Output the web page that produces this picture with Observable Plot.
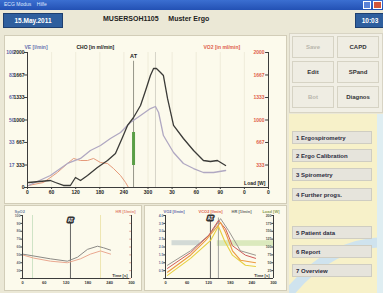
<!DOCTYPE html>
<html><head><meta charset="utf-8">
<script src="https://cdn.jsdelivr.net/npm/d3@7"></script>
<script src="https://cdn.jsdelivr.net/npm/@observablehq/plot@0.6"></script>
<style>
html,body{margin:0;padding:0;background:#ebe8d6;}
#app{position:relative;width:383px;height:293px;overflow:hidden;font-family:"Liberation Sans",Arial,sans-serif;font-weight:bold;background:#ebe8d6;}
.a{position:absolute;}
.blue{background:#2f5f9e;color:#fff;border:1px solid #1d3f70;font-size:6.5px;display:flex;align-items:center;justify-content:center;}
.panel{background:#fcfaec;border:1px solid #d2cdb8;box-sizing:border-box;}
.btn{background:#efede3;border:1px solid #d6d3c4;box-sizing:border-box;font-size:6px;display:flex;align-items:center;justify-content:center;color:#333;}
.menu{background:#e6e4dc;border:1px solid #cfcdc2;box-sizing:border-box;font-size:6px;color:#2c2c40;padding-left:3px;display:flex;align-items:center;}
</style></head><body><div id="app"></div>
<script>
// ---------- DATA ----------
// main chart x positions are index slots along the load axis
const mainXTicks = [0,1,2,3,4,5,6,7,8,9,10];
const mainXLabels = ["0","60","120","180","240","300","30","60","90","0","0"];
const leftTicks = [0,333,667,1000,1333,1667,2000];
const leftLabelsCHO = ["0","333","667","1000","1333","1667","2000"];
const leftLabelsVE = ["","17","33","50","67","83","100"];
const rightTicks = [333,667,1000,1333,1667,2000];
const rightLabels = ["333","667","1000","1333","1667","2000"];
const darkX = [0.04,0.95,1.16,1.49,1.78,1.99,2.2,2.49,2.9,3.32,3.65,3.94,4.15,4.4,4.69,4.9,5.1,5.23,5.35,5.52,5.64,5.81,6.06,6.47,6.89,7.3,7.59,7.88,8.22];
const darkY = [74,104,74,30,30,148,104,178,296,400,504,741,919,1037,1215,1437,1659,1763,1763,1704,1659,1319,919,726,548,400,385,400,326];
const purpleX = [0.04,0.95,1.66,2.2,2.61,3.03,3.44,3.86,4.27,4.69,5.1,5.31,5.44,5.64,6.06,6.47,6.89,7.3,7.72,8.22];
const purpleY = [30,178,356,430,548,622,726,815,963,1067,1170,1200,1111,770,519,356,281,222,222,252];
const orangeX = [0.04,0.66,1.24,1.66,1.91,2.2,2.49,2.74,3.03,3.32,3.57,3.86,4.07,4.19];
const orangeY = [30,74,222,356,430,400,400,430,370,356,281,178,74,0];
const atIdx = 4.4;
const peakIdx = 5.31;
const greenBar = [326,815];

// bottom-left panel
const blXTicks = [0,1,2,3,4,5];
const blXLabels = ["0","60","120","180","240","300"];
const blYTicks = [0,10,20,30,40,50,60,70,80];
const blSalmonX = [0,0.5,1.28,2.06,2.66,3.12,3.58,4.04];
const blSalmonY = [30,26,22,20,25,31,35,31];
const blGrayX = [0,1.28,2.06,2.52,2.98,3.44,3.72,4.04];
const blGrayY = [31,25,22,27,37,41,39,36];
const blAt = 2.2, blGreen = 0.46, blYellow = 3.58;

// bottom-right panel
const brXTicks = [0,1,2,3,4,5];
const brXLabels = ["0","60","120","180","240","300"];
const brYTicks = [0,12.5,25,37.5,50,62.5,75,87.5,100];
const brOrangeX = [0.09,1.16,1.85,2.31,2.55,2.78,3.1,3.47,4.17];
const brOrangeY = [10,37,60,79,89,73,44,29,25];
const brYellowX = [0.09,1.16,2.08,2.45,2.73,3.1,3.7,4.17];
const brYellowY = [5,32,60,83,60,37,21,19];
const brRedX = [0.09,1.16,1.99,2.45,2.78,3.1,3.7,4.17];
const brRedY = [16,41,68,92,79,52,37,32];
const brGrayX = [0.09,1.16,2.08,2.55,2.92,3.47,4.17];
const brGrayY = [21,44,71,95,76,44,37];
const brAt = 2.08, brPeak = 2.45;

const menuItems = ["1 Ergospirometry","2 Ergo Calibration","3 Spirometry","4 Further progs.","","5 Patient data","6 Report","7 Overview"];
const menuTops = [131,149,168,188,0,226,245,264];

// ---------- LAYOUT ----------
const app = document.getElementById("app");
function el(cls, style, html){const d=document.createElement("div");d.className=cls;Object.assign(d.style,style);if(html!=null)d.innerHTML=html;app.appendChild(d);return d;}
const zip = (xs, ys) => xs.map((x,i)=>[x, ys[i]]);

// title bar
el("a",{left:"0",top:"0",width:"383px",height:"10px",background:"linear-gradient(#3b6fd1,#2351b4)"});
el("a",{left:"4px",top:"1px",fontSize:"5px",color:"#dfe8ff",fontWeight:"normal"},"ECG Modus &nbsp;&nbsp; Hilfe");
el("a",{left:"363px",top:"1px",width:"8px",height:"8px",background:"#5a82d8",border:"1px solid #fff",boxSizing:"border-box"});
el("a",{left:"373px",top:"1px",width:"9px",height:"8px",background:"#d2553a",border:"1px solid #fff",boxSizing:"border-box"});
// header row
el("a blue",{left:"3px",top:"13px",width:"58px",height:"13px"},"15.May.2011");
el("a",{left:"103px",top:"15px",fontSize:"7px",color:"#222"},"MUSERSOH1105 &nbsp;&nbsp;&nbsp; Muster Ergo");
el("a blue",{left:"355px",top:"13px",width:"28px",height:"13px"},"10:03");

// panels
el("a panel",{left:"4px",top:"35px",width:"283px",height:"169px"});
el("a panel",{left:"4px",top:"205px",width:"138px",height:"86px"});
el("a panel",{left:"144px",top:"205px",width:"143px",height:"86px"});

// sidebar
el("a",{left:"289px",top:"33px",width:"94px",height:"80px",background:"#f1efe5",border:"1px solid #d8d4c4",boxSizing:"border-box"});
const btns=[["Save",0,0,true],["CAPD",1,0],["Edit",0,1],["SPand",1,1],["Bot",0,2,true],["Diagnos",1,2]];
btns.forEach(([t,c,r,dis])=>el("a btn",{left:(292+c*45)+"px",top:(36+r*25)+"px",width:"42px",height:"22px",color:dis?"#b8b6ac":"#333"},t));
el("a",{left:"289px",top:"114px",width:"94px",height:"179px",background:"#f7f1c9"});
const deco=document.createElementNS("http://www.w3.org/2000/svg","svg");
deco.setAttribute("width","94");deco.setAttribute("height","179");
deco.style.cssText="position:absolute;left:289px;top:114px";
deco.innerHTML='<path d="M0,179 Q40,130 94,128" fill="none" stroke="#cfe3ee" stroke-width="10"/><rect x="88" y="0" width="6" height="179" fill="#dfeef2"/>';
app.appendChild(deco);
menuItems.forEach((t,i)=>{ if(t) el("a menu",{left:"292px",top:menuTops[i]+"px",width:"80px",height:"13px"},t); });

const baseStyle = {background:"transparent",fontFamily:"Liberation Sans, Arial, sans-serif",fontSize:"5px",fontWeight:"bold",overflow:"visible"};

// ---------- MAIN CHART ----------
const mainChart = Plot.plot({
  width: 281, height: 166,
  marginLeft: 21, marginRight: 19, marginTop: 14, marginBottom: 17,
  x: {domain:[0,10], axis:null},
  y: {domain:[0,2000], axis:null},
  style: baseStyle,
  marks: [
    Plot.ruleX(mainXTicks, {y1:0, y2:2000, stroke:"#ece8d6", strokeWidth:0.8}),
    Plot.ruleX([peakIdx], {y1:0, y2:2000, stroke:"#d6d4c8", strokeWidth:1}),
    Plot.ruleX([atIdx], {y1:0, y2:1870, stroke:"#8a8a7e", strokeWidth:0.9}),
    Plot.ruleX([atIdx], {y1:greenBar[0], y2:greenBar[1], stroke:"#5a9e46", strokeWidth:3}),
    Plot.text(["AT"], {x:atIdx, y:1940, fill:"#222", fontSize:5.5}),
    Plot.line(zip(orangeX, orangeY), {stroke:"#e59a7a", strokeWidth:1}),
    Plot.line(zip(purpleX, purpleY), {stroke:"#b0a8c2", strokeWidth:1.3}),
    Plot.line(zip(darkX, darkY), {stroke:"#3b3b38", strokeWidth:1.3}),
    // axes
    Plot.ruleX([0], {y1:0, y2:2000, stroke:"#3c3c3c", strokeWidth:1}),
    Plot.ruleX([10], {y1:0, y2:2000, stroke:"#3c3c3c", strokeWidth:1}),
    Plot.ruleY([0], {x1:0, x2:10, stroke:"#3c3c3c", strokeWidth:1.2}),
    Plot.ruleY(leftTicks, {x1:-0.12, x2:0, stroke:"#3c3c3c"}),
    Plot.ruleY(rightTicks, {x1:9.88, x2:10, stroke:"#3c3c3c"}),
    Plot.ruleX(mainXTicks, {y1:0, y2:-30, stroke:"#3c3c3c"}),
    Plot.text(leftTicks, {x:0, y:d=>d, text:(d,i)=>leftLabelsCHO[i], dx:-3, textAnchor:"end", fill:"#1e1e1e"}),
    Plot.text(leftTicks, {x:0, y:d=>d, text:(d,i)=>leftLabelsVE[i], dx:-13, textAnchor:"end", fill:"#5a64a8"}),
    Plot.text(rightTicks, {x:10, y:d=>d, text:(d,i)=>rightLabels[i], dx:-4, textAnchor:"end", fill:"#e0604a"}),
    Plot.text(mainXTicks, {x:d=>d, y:0, text:(d,i)=>mainXLabels[i], dy:5, fill:"#1e1e1e"}),
    Plot.text(["Load [W]"], {x:10, y:0, dx:-3, dy:-4, textAnchor:"end", fill:"#1e1e1e"}),
    Plot.text(["VE [l/min]"], {frameAnchor:"top-left", dx:-3, dy:-7, fill:"#6a74b0"}),
    Plot.text(["CHO [in ml/min]"], {frameAnchor:"top-left", dx:49, dy:-7, fill:"#1a1a1a"}),
    Plot.text(["VO2 [in ml/min]"], {frameAnchor:"top-left", dx:176, dy:-7, fill:"#e0604a"})
  ]
});
const mw = document.createElement("div"); mw.className="a"; mw.style.left="6px"; mw.style.top="38px";
mw.appendChild(mainChart); app.appendChild(mw);

// ---------- BOTTOM LEFT ----------
const blChart = Plot.plot({
  width: 135, height: 83,
  marginLeft: 16, marginRight: 10, marginTop: 9, marginBottom: 11,
  x: {domain:[0,5], axis:null},
  y: {domain:[0,80], axis:null},
  style: baseStyle,
  marks: [
    Plot.ruleX([blGreen], {y1:0, y2:80, stroke:"#cfe3c6"}),
    Plot.ruleX([blYellow], {y1:0, y2:80, stroke:"#eee6b0"}),
    Plot.ruleX([blAt], {y1:0, y2:72, stroke:"#555", strokeWidth:0.9}),
    Plot.text(["AT"], {x:blAt, y:74, fill:"#fff", stroke:"#333", strokeWidth:3, paintOrder:"stroke", fontSize:4.5}),
    Plot.line(zip(blSalmonX, blSalmonY), {stroke:"#eaa890", strokeWidth:1}),
    Plot.line(zip(blGrayX, blGrayY), {stroke:"#8c8a86", strokeWidth:1}),
    Plot.ruleX([0], {y1:0, y2:80, stroke:"#3c3c3c"}),
    Plot.ruleX([5], {y1:0, y2:80, stroke:"#3c3c3c"}),
    Plot.ruleY([0], {x1:0, x2:5, stroke:"#3c3c3c", strokeWidth:1.2}),
    Plot.ruleY(blYTicks, {x1:-0.08, x2:0, stroke:"#3c3c3c"}),
    Plot.ruleY(blYTicks, {x1:4.92, x2:5, stroke:"#e0a090"}),
    Plot.text(blYTicks.slice(1), {x:0, y:d=>d, text:d=>String(d+20), dx:-2, textAnchor:"end", fill:"#707080", fontSize:3.5}),
    Plot.text(blXTicks, {x:d=>d, y:0, text:(d,i)=>blXLabels[i], dy:4.5, fill:"#333", fontSize:4}),
    Plot.text(["Time [s]"], {x:5, y:0, dx:-4, dy:-3, textAnchor:"end", fill:"#333", fontSize:4}),
    Plot.text(["SpO2"], {frameAnchor:"top-left", dx:-8, dy:-5, fill:"#7080a0", fontSize:4}),
    Plot.text(["HR [1/min]"], {frameAnchor:"top-right", dx:4, dy:-5, textAnchor:"end", fill:"#e08070", fontSize:4})
  ]
});
const blw = document.createElement("div"); blw.className="a"; blw.style.left="6px"; blw.style.top="206px";
blw.appendChild(blChart); app.appendChild(blw);

// ---------- BOTTOM RIGHT ----------
const brChart = Plot.plot({
  width: 140, height: 83,
  marginLeft: 19, marginRight: 13, marginTop: 9, marginBottom: 11,
  x: {domain:[0,5], axis:null},
  y: {domain:[0,100], axis:null},
  style: baseStyle,
  marks: [
    Plot.rectY([0], {x1:2.4, x2:5, y1:51, y2:60, fill:"#dbe9bd"}),
    Plot.rectY([0], {x1:0.3, x2:1.6, y1:52, y2:60, fill:"#d3dad6"}),
    Plot.ruleX([brAt], {y1:0, y2:92, stroke:"#555", strokeWidth:0.9}),
    Plot.ruleX([brPeak], {y1:0, y2:96, stroke:"#888", strokeWidth:0.8}),
    Plot.text(["AT"], {x:brAt, y:95, fill:"#fff", stroke:"#333", strokeWidth:3, paintOrder:"stroke", fontSize:4.5}),
    Plot.line(zip(brGrayX, brGrayY), {stroke:"#9a9690", strokeWidth:1}),
    Plot.line(zip(brYellowX, brYellowY), {stroke:"#e6cf40", strokeWidth:1.1}),
    Plot.line(zip(brRedX, brRedY), {stroke:"#cf5a5a", strokeWidth:1}),
    Plot.line(zip(brOrangeX, brOrangeY), {stroke:"#ec9a40", strokeWidth:1.1}),
    Plot.ruleX([0], {y1:0, y2:100, stroke:"#3c3c3c"}),
    Plot.ruleX([5], {y1:0, y2:100, stroke:"#3c3c3c"}),
    Plot.ruleY([0], {x1:0, x2:5, stroke:"#3c3c3c", strokeWidth:1.2}),
    Plot.ruleY(brYTicks, {x1:-0.08, x2:0, stroke:"#3c3c3c"}),
    Plot.ruleY(brYTicks, {x1:4.92, x2:5, stroke:"#3c3c3c"}),
    Plot.text(brYTicks.slice(1), {x:0, y:d=>d, text:d=>(d/25).toFixed(1), dx:-2, textAnchor:"end", fill:"#6070a0", fontSize:3.5}),
    Plot.text(brYTicks.slice(1), {x:5, y:d=>d, text:d=>String(Math.round(d*2)), dx:-2, textAnchor:"end", fill:"#555", fontSize:3.5}),
    Plot.text(brXTicks, {x:d=>d, y:0, text:(d,i)=>brXLabels[i], dy:4.5, fill:"#333", fontSize:4}),
    Plot.text(["Time [s]"], {x:5, y:0, dx:-4, dy:-3, textAnchor:"end", fill:"#333", fontSize:4}),
    Plot.text(["VO2 [l/min]"], {frameAnchor:"top-left", dx:-2, dy:-5, textAnchor:"start", fill:"#5a64a8", fontSize:4}),
    Plot.text(["VCO2 [l/min]"], {frameAnchor:"top-left", dx:33, dy:-5, textAnchor:"start", fill:"#e0604a", fontSize:4}),
    Plot.text(["HR [1/min]"], {frameAnchor:"top-left", dx:66, dy:-5, textAnchor:"start", fill:"#666", fontSize:4}),
    Plot.text(["Load [W]"], {frameAnchor:"top-right", dx:6, dy:-5, textAnchor:"end", fill:"#8a9a50", fontSize:4})
  ]
});
const brw = document.createElement("div"); brw.className="a"; brw.style.left="146px"; brw.style.top="206px";
brw.appendChild(brChart); app.appendChild(brw);
</script></body></html>
